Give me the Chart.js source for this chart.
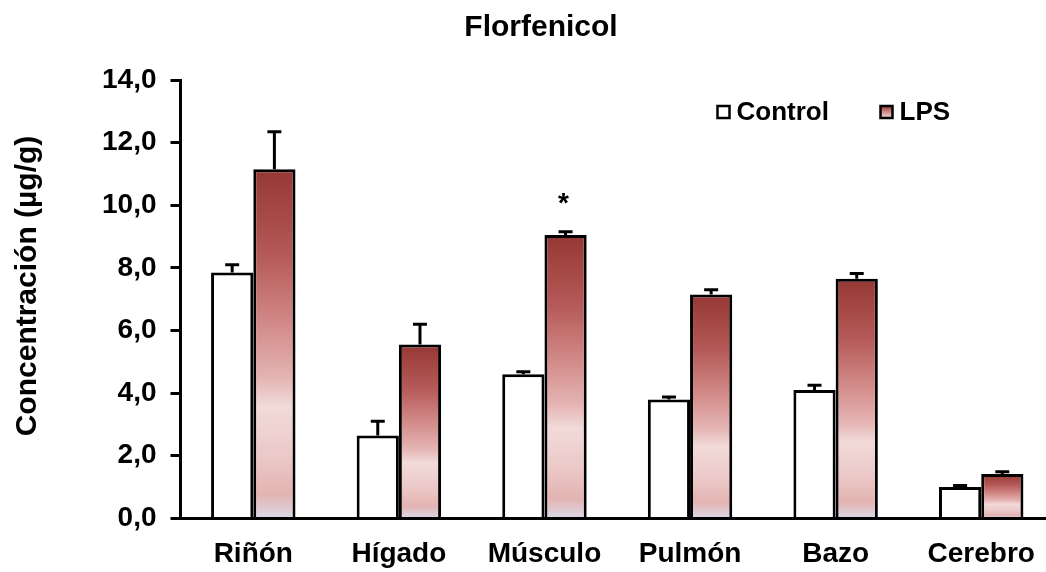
<!DOCTYPE html>
<html>
<head>
<meta charset="utf-8">
<script src="https://cdn.jsdelivr.net/npm/chart.js@4/dist/chart.umd.min.js"></script>
<style>
  html, body { margin: 0; padding: 0; background: #fff; overflow: hidden; }
  #wrap { width: 1046px; height: 572px; overflow: hidden; }
</style>
</head>
<body>
<div id="wrap"><canvas id="chart" width="1054" height="572"></canvas></div>
<script>
const chartTitle = 'Florfenicol';
const yTitle = 'Concentración (µg/g)';
const organs = ['Riñón', 'Hígado', 'Músculo', 'Pulmón', 'Bazo', 'Cerebro'];
const controlValues = [7.85, 2.65, 4.6, 3.8, 4.1, 1.0];
const controlErrors = [0.25, 0.45, 0.08, 0.08, 0.15, 0.05];
const lpsValues = [11.15, 5.55, 9.05, 7.15, 7.65, 1.42];
const lpsErrors = [1.2, 0.65, 0.1, 0.15, 0.17, 0.07];
const lpsMarks = ['', '', '*', '', '', ''];
const yTicks = [0, 2, 4, 6, 8, 10, 12, 14];

const FONT = "'Liberation Sans', Arial, sans-serif";

// gradient like the office-style bar fill, rebuilt for each bar
const lpsFill = ctx => {
  const chart = ctx.chart;
  const area = chart.chartArea;
  if (!area || ctx.type !== 'data') return '#c0504d';
  const y = chart.scales.y;
  const top = y.getPixelForValue(ctx.raw);
  const bottom = y.getPixelForValue(0);
  const g = chart.ctx.createLinearGradient(0, top, 0, bottom);
  g.addColorStop(0, '#953735');
  g.addColorStop(0.25, '#b55a58');
  g.addColorStop(0.45, '#d38c8a');
  g.addColorStop(0.6, '#e4b5b4');
  g.addColorStop(0.68, '#f1dad9');
  g.addColorStop(0.82, '#ebc9c8');
  g.addColorStop(0.93, '#e3b3b2');
  g.addColorStop(1, '#dcd9e8');
  return g;
};

const errorBars = {
  id: 'errorBars',
  afterDatasetsDraw(chart) {
    const c = chart.ctx;
    const y = chart.scales.y;
    const errs = [controlErrors, lpsErrors];
    c.save();
    c.strokeStyle = '#000';
    c.lineWidth = 3;
    chart.data.datasets.forEach((ds, i) => {
      chart.getDatasetMeta(i).data.forEach((bar, j) => {
        const yTop = y.getPixelForValue(ds.data[j] + errs[i][j]);
        c.beginPath();
        c.moveTo(bar.x, bar.y);
        c.lineTo(bar.x, yTop);
        c.moveTo(bar.x - 7, yTop);
        c.lineTo(bar.x + 7, yTop);
        c.stroke();
      });
    });
    // significance marks
    c.fillStyle = '#000';
    c.font = 'bold 28px ' + FONT;
    c.textAlign = 'center';
    c.textBaseline = 'middle';
    chart.getDatasetMeta(1).data.forEach((bar, j) => {
      if (!lpsMarks[j]) return;
      const yTop = y.getPixelForValue(lpsValues[j] + lpsErrors[j]);
      c.fillText(lpsMarks[j], bar.x - 2, yTop - 28);
    });
    c.restore();
  }
};

// titles drawn by hand so they sit where the original puts them
const titles = {
  id: 'titles',
  afterDraw(chart) {
    const c = chart.ctx;
    c.save();
    c.fillStyle = '#000';
    c.font = 'bold 30px ' + FONT;
    c.textAlign = 'center';
    c.textBaseline = 'middle';
    c.fillText(chartTitle, 541, 28);
    c.translate(28, 286);
    c.rotate(-Math.PI / 2);
    c.fillText(yTitle, 0, 0);
    c.restore();
  }
};

const legendBox = {
  id: 'legendBox',
  afterDraw(chart) {
    const c = chart.ctx;
    const area = chart.chartArea;
    const items = [
      { label: 'Control', fill: '#fff', x: area.left + 537 },
      { label: 'LPS', fill: null, x: area.left + 700 }
    ];
    const yMid = 112;
    c.save();
    c.font = 'bold 26px ' + FONT;
    c.textBaseline = 'middle';
    c.textAlign = 'left';
    items.forEach(it => {
      if (it.fill) {
        c.fillStyle = it.fill;
      } else {
        const g = c.createLinearGradient(0, yMid - 6, 0, yMid + 6);
        g.addColorStop(0, '#953735');
        g.addColorStop(0.5, '#d38c8a');
        g.addColorStop(1, '#f1dad9');
        c.fillStyle = g;
      }
      c.fillRect(it.x, yMid - 6, 12, 12);
      c.strokeStyle = '#000';
      c.lineWidth = 2.5;
      c.strokeRect(it.x, yMid - 6, 12, 12);
      c.fillStyle = '#000';
      c.fillText(it.label, it.x + 19, yMid + 1);
    });
    c.restore();
  }
};

new Chart(document.getElementById('chart'), {
  type: 'bar',
  data: {
    labels: organs,
    datasets: [
      {
        label: 'Control',
        data: controlValues,
        backgroundColor: '#fff',
        borderColor: '#000',
        borderWidth: 3,
        categoryPercentage: 0.58,
        barPercentage: 1
      },
      {
        label: 'LPS',
        data: lpsValues,
        backgroundColor: lpsFill,
        borderColor: '#000',
        borderWidth: 3,
        categoryPercentage: 0.58,
        barPercentage: 1
      }
    ]
  },
  options: {
    responsive: false,
    animation: false,
    layout: { padding: { left: 88, right: 0, top: 80, bottom: -18 } },
    plugins: {
      legend: { display: false },
      tooltip: { enabled: false },
      title: { display: false }
    },
    scales: {
      x: {
        grid: { display: false, drawTicks: false },
        border: { color: '#000', width: 3 },
        ticks: {
          color: '#000',
          padding: 19,
          font: { family: FONT, size: 28, weight: 'bold' }
        }
      },
      y: {
        min: 0,
        max: 14,
        afterBuildTicks: axis => { axis.ticks = yTicks.map(v => ({ value: v })); },
        grid: {
          drawOnChartArea: false,
          drawTicks: true,
          tickLength: 10,
          color: '#000',
          lineWidth: 3
        },
        border: { color: '#000', width: 3 },
        ticks: {
          color: '#000',
          padding: 14,
          font: { family: FONT, size: 28, weight: 'bold' },
          callback: v => v.toFixed(1).replace('.', ',')
        }
      }
    }
  },
  plugins: [errorBars, legendBox, titles]
});
</script>
</body>
</html>
